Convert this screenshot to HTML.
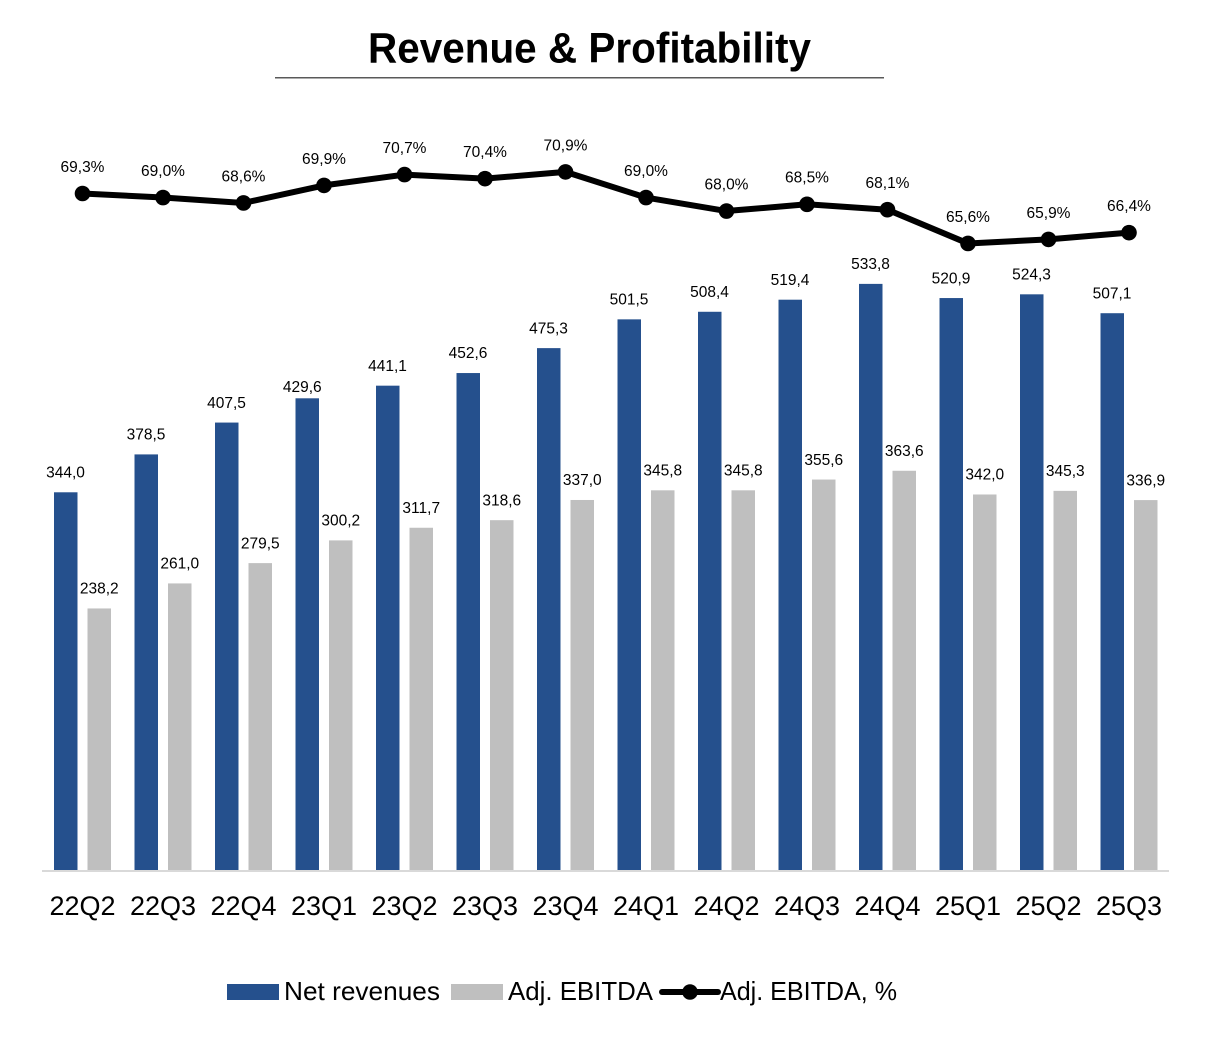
<!DOCTYPE html>
<html lang="en">
<head>
<meta charset="utf-8">
<title>Revenue &amp; Profitability</title>
<style>
  html, body { margin: 0; padding: 0; background: #fff; }
  body { width: 1214px; height: 1040px; overflow: hidden; }
  svg { display: block; font-family: "Liberation Sans", sans-serif; fill: #000; }
</style>
</head>
<body>
<svg id="chart" xmlns="http://www.w3.org/2000/svg" width="1214" height="1040" viewBox="0 0 1214 1040">
  <text x="589.5" y="62.5" text-anchor="middle" font-size="43" font-weight="700" textLength="443" lengthAdjust="spacingAndGlyphs">Revenue &amp; Profitability</text>
  <rect x="275" y="77" width="609" height="1.5" fill="#595959"></rect>
  <g id="bars"></g>
  <rect x="42" y="870" width="1127" height="2" fill="#d9d9d9"></rect>
  <g id="ticks"></g>
  <g id="line"></g>
  <g>
    <g>
      <rect x="227" y="984" width="52" height="16" fill="#25508d"></rect>
      <text x="284" y="1000" font-size="26" textLength="156" lengthAdjust="spacingAndGlyphs">Net revenues</text>
    </g>
    <g>
      <rect x="451" y="984" width="52" height="16" fill="#bfbfbf"></rect>
      <text x="508" y="1000" font-size="26" textLength="145" lengthAdjust="spacingAndGlyphs">Adj. EBITDA</text>
    </g>
    <g>
      <line x1="662" y1="992" x2="718" y2="992" stroke="#000" stroke-width="6" stroke-linecap="round"></line>
      <circle cx="690" cy="992" r="7.8" fill="#000"></circle>
      <text x="720" y="1000" font-size="26" textLength="177" lengthAdjust="spacingAndGlyphs">Adj. EBITDA, %</text>
    </g>
  </g>
</svg>
<script>
const categories = ["22Q2","22Q3","22Q4","23Q1","23Q2","23Q3","23Q4","24Q1","24Q2","24Q3","24Q4","25Q1","25Q2","25Q3"];
const netRevenues = [344.0,378.5,407.5,429.6,441.1,452.6,475.3,501.5,508.4,519.4,533.8,520.9,524.3,507.1];
const adjEbitda = [238.2,261.0,279.5,300.2,311.7,318.6,337.0,345.8,345.8,355.6,363.6,342.0,345.3,336.9];
const adjEbitdaPct = [69.3,69.0,68.6,69.9,70.7,70.4,70.9,69.0,68.0,68.5,68.1,65.6,65.9,66.4];

const NS = "http://www.w3.org/2000/svg";
const xCenter = function (i) { return 82.5 + i * 80.5; };
const yBar = function (v) { return 870 - v * 1.098; };
const yLine = function (v) { return 193.5 + (69.3 - v) * 13.5; };
const fmt = function (v) { return v.toFixed(1).replace(".", ","); };
const make = function (tag, attrs, parent, content) {
  const el = document.createElementNS(NS, tag);
  Object.keys(attrs).forEach(function (k) { el.setAttribute(k, attrs[k]); });
  if (content !== undefined) el.textContent = content;
  parent.appendChild(el);
  return el;
};

const barsG = document.getElementById("bars");
const ticksG = document.getElementById("ticks");
const lineG = document.getElementById("line");

categories.forEach(function (cat, i) {
  const cx = xCenter(i);

  const tick = make("text", { x: cx, y: 915, "text-anchor": "middle", "font-size": 27 }, ticksG, cat);
  
  

  const revTop = yBar(netRevenues[i]);
  const revBar = make("rect", { x: cx - 28.5, y: revTop, width: 23.5, height: 870 - revTop, fill: "#25508d" }, barsG);
  
  
  // The 23Q1 label sits lower and further left than the others in the source chart.
  const isMovedLabel = cat === "23Q1";
  const revLabel = make("text", {
    x: cx - (isMovedLabel ? 21.75 : 17),
    y: revTop - (isMovedLabel ? 6.5 : 14.8),
    "text-anchor": "middle",
    "font-size": 15.5
  }, barsG, fmt(netRevenues[i]));
  
  

  const ebTop = yBar(adjEbitda[i]);
  const ebBar = make("rect", { x: cx + 5, y: ebTop, width: 23.5, height: 870 - ebTop, fill: "#bfbfbf" }, barsG);
  
  
  const ebLabel = make("text", { x: cx + 16.75, y: ebTop - 14.8, "text-anchor": "middle", "font-size": 15.5 }, barsG, fmt(adjEbitda[i]));
  
  
});

const pathPoints = adjEbitdaPct.map(function (v, i) { return xCenter(i) + "," + yLine(v); }).join(" ");
const marginLine = make("polyline", { points: pathPoints, fill: "none", stroke: "#000", "stroke-width": 6, "stroke-linejoin": "round" }, lineG);



adjEbitdaPct.forEach(function (v, i) {
  const dot = make("circle", { cx: xCenter(i), cy: yLine(v), r: 7.8, fill: "#000" }, lineG);
  
  
  const label = make("text", { x: xCenter(i), y: yLine(v) - 21.6, "text-anchor": "middle", "font-size": 15.5 }, lineG, fmt(v) + "%");
  
  
});
</script>
</body>
</html>
